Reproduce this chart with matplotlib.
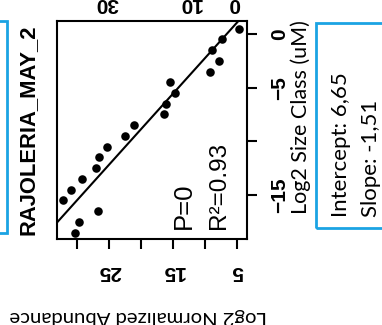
import matplotlib
matplotlib.use("Agg")
import matplotlib.pyplot as plt
from matplotlib.patches import Rectangle
import numpy as np

# ---- data ----
size_class = [0.5, -0.5, -1.5, -2.5, -3.5, -4.5, -5.5, -6.5, -7.5, -8.5,
              -9.5, -10.5, -11.5, -12.5, -13.5, -14.5, -15.5, -16.5, -17.5, -18.5]
abundance = [4.73, 7.44, 8.95, 7.86, 9.27, 15.5, 14.78, 16.14, 16.4, 21.14,
             22.55, 25.4, 26.6, 27.1, 29.2, 31.0, 32.2, 26.8, 29.7, 30.3]
intercept = 6.65
slope = -1.51
title = "RAJOLERIA_MAY_2"
abund_ticks = [30, 25, 20, 15, 10, 5]
abund_labels = ["", "25", "", "15", "", "5"]
size_ticks = [-15, -10, -5, 0]
size_labels = ["\u221215", "", "\u22125", "0"]
stats_p = "P=0"
stats_r2 = "R\u00b2=0.93"
box_lines = ["Intercept: 6,65", "Slope: -1,51"]
neighbour_labels = ["30", "10", "0"]
neighbour_pos_px = [107, 190, 234]

W, H = 382, 325
fig = plt.figure(figsize=(W / 100, H / 100), dpi=100)
fig.patch.set_facecolor("white")

def fx(px):
    return px / W

def fy(py):
    return 1 - py / H

ARIAL = "Liberation Sans"
SOFT = "Lato"
BLUE = "#1BA3E3"

# axes box: px left 57, right 247, top 21, bottom 239
ax = fig.add_axes([fx(57), fy(239), (247 - 57) / W, (239 - 21) / H])
ax.scatter(abundance, size_class, s=38, color="black", zorder=3, linewidths=0)
ax.set_xlim(33.17, 3.48)
ax.set_ylim(-19.1, 1.21)
yl = np.array(ax.get_ylim())
ax.plot(intercept + slope * yl, yl, color="black", lw=1.5, zorder=2)

for sp in ax.spines.values():
    sp.set_linewidth(1.5)

ax.set_xticks(abund_ticks)
ax.set_xticklabels(abund_labels, fontfamily=ARIAL, fontweight="bold", fontsize=15)
ax.tick_params(axis="x", direction="out", length=7.5, width=1.5, pad=9,
               labelrotation=180)

ax.yaxis.tick_right()
ax.set_yticks(size_ticks)
ax.set_yticklabels(size_labels, fontfamily=ARIAL, fontweight="bold", fontsize=15,
                   rotation=90, va="center")
ax.tick_params(axis="y", direction="out", length=7.5, width=1.5, pad=9)

# texts inside plot
fig.text(fx(184), fy(229), stats_p, rotation=90, ha="center", va="bottom",
         fontsize=18.5, fontfamily=ARIAL)
fig.text(fx(219), fy(229), stats_r2, rotation=90, ha="center", va="bottom",
         fontsize=17.5, fontfamily=ARIAL)

# title (rotated)
fig.text(fx(28), fy(130), title, rotation=90, ha="center", va="center",
         fontsize=15.8, fontweight="bold", fontfamily=ARIAL)

# axis labels
fig.text(fx(301), fy(117), "Log2 Size Class (uM)", rotation=90, ha="center",
         va="center", fontsize=15.5, fontfamily=SOFT)
fig.text(fx(138), fy(316), "Log2 Normalized Abundance", rotation=180,
         ha="center", va="center", fontsize=14.6, fontfamily=SOFT)

# neighbouring panel tick labels (cut off at top)
for lab, px in zip(neighbour_labels, neighbour_pos_px):
    fig.text(fx(px), fy(3), lab, rotation=180, ha="center", va="center",
             fontsize=15, fontweight="bold", fontfamily=ARIAL)

# blue boxes
fig.add_artist(Rectangle((fx(316), fy(228)), fx(420) - fx(316), fy(23) - fy(228),
                         transform=fig.transFigure, fill=False, edgecolor=BLUE,
                         lw=2, clip_on=False))
fig.add_artist(Rectangle((fx(-40), fy(233)), fx(7) - fx(-40), fy(21) - fy(233),
                         transform=fig.transFigure, fill=False, edgecolor=BLUE,
                         lw=2, clip_on=False))

fig.text(fx(341), fy(217), box_lines[0], rotation=90, ha="center", va="bottom",
         fontsize=16, fontfamily=SOFT)
fig.text(fx(371), fy(217), box_lines[1], rotation=90, ha="center", va="bottom",
         fontsize=16, fontfamily=SOFT)

fig.savefig("out.png", dpi=100)
